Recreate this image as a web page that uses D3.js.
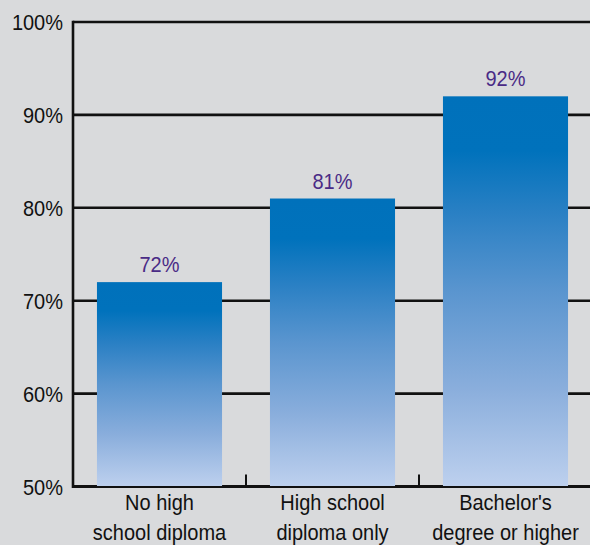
<!DOCTYPE html>
<html><head><meta charset="utf-8">
<script src="https://cdn.jsdelivr.net/npm/d3@7"></script>
<style>
html,body{margin:0;padding:0;background:#d9dadc;}
svg{display:block;}
text{font-family:"Liberation Sans",Arial,sans-serif;}
</style></head>
<body>
<div id="chart"></div>
<script>
const categories = [["No high","school diploma"],["High school","diploma only"],["Bachelor's","degree or higher"]];
const values = [72, 81, 92];
const yTicks = [50, 60, 70, 80, 90, 100];

const W = 590, H = 545;
const margin = {left: 73, top: 22, right: -2, bottom: 58};
const FS = 21.5, SX = 0.93;
const svg = d3.select("#chart").append("svg").attr("width", W).attr("height", H);

const x = d3.scaleBand().domain(d3.range(categories.length))
  .range([margin.left, W - margin.right]).paddingInner(0.277).paddingOuter(0.1385);
const y = d3.scaleLinear().domain([50, 100]).range([H - margin.bottom - 0.5, margin.top]);

const defs = svg.append("defs");
const grad = defs.append("linearGradient").attr("id","barGrad").attr("x1",0).attr("y1",0).attr("x2",0).attr("y2",1);
[[0,"#0071bb"],[0.14,"#0072bc"],[0.3,"#2a80c4"],[0.5,"#5a95cf"],[0.75,"#8aaedc"],[1,"#bdd0ee"]]
  .forEach(([o,c]) => grad.append("stop").attr("offset",o).attr("stop-color",c));

// gridlines
svg.append("g").selectAll("line").data(yTicks.filter(d => d > 50)).join("line")
  .attr("x1", margin.left).attr("x2", W)
  .attr("y1", d => y(d)).attr("y2", d => y(d))
  .attr("stroke", "#111").attr("stroke-width", 2.6);

// baseline
svg.append("line").attr("x1", margin.left).attr("x2", W)
  .attr("y1", y(50)).attr("y2", y(50)).attr("stroke", "#111").attr("stroke-width", 3);

// category separator ticks
const step = x.step();
svg.append("g").selectAll("line").data([1,2]).join("line")
  .attr("x1", d => margin.left + d*step).attr("x2", d => margin.left + d*step)
  .attr("y1", y(50)).attr("y2", y(50) - 12)
  .attr("stroke", "#111").attr("stroke-width", 2);

// left axis
svg.append("line").attr("x1", margin.left).attr("x2", margin.left)
  .attr("y1", y(100) - 1.3).attr("y2", y(50) + 1.5)
  .attr("stroke", "#111").attr("stroke-width", 2.6);

// bars
svg.append("g").selectAll("rect").data(values).join("rect")
  .attr("x", (d,i) => x(i)).attr("width", x.bandwidth())
  .attr("y", d => y(d)).attr("height", d => y(50) - 0.5 - y(d))
  .attr("fill", "url(#barGrad)");

// value labels
svg.append("g").selectAll("g").data(values).join("g")
  .attr("transform", (d,i) => `translate(${x(i) + x.bandwidth()/2},${y(d) - 10}) scale(${SX},1)`)
  .append("text").attr("text-anchor","middle").attr("font-size", FS).attr("fill","#4a2b86")
  .text(d => d + "%");

// y tick labels
svg.append("g").selectAll("g").data(yTicks).join("g")
  .attr("transform", d => `translate(63,${y(d) + 8}) scale(${SX},1)`)
  .append("text").attr("text-anchor","end").attr("font-size", FS).attr("fill","#111")
  .text(d => d + "%");

// category labels
const cg = svg.append("g").selectAll("g").data(categories).join("g")
  .attr("transform", (d,i) => `translate(${x(i) + x.bandwidth()/2},510) scale(${SX},1)`);
const cl = cg.append("text").attr("text-anchor","middle").attr("font-size", FS).attr("fill","#111");
cl.selectAll("tspan").data(d => d).join("tspan")
  .attr("x", 0).attr("dy", (d,i) => i ? 30 : 0).text(d => d);
</script>
</body></html>
